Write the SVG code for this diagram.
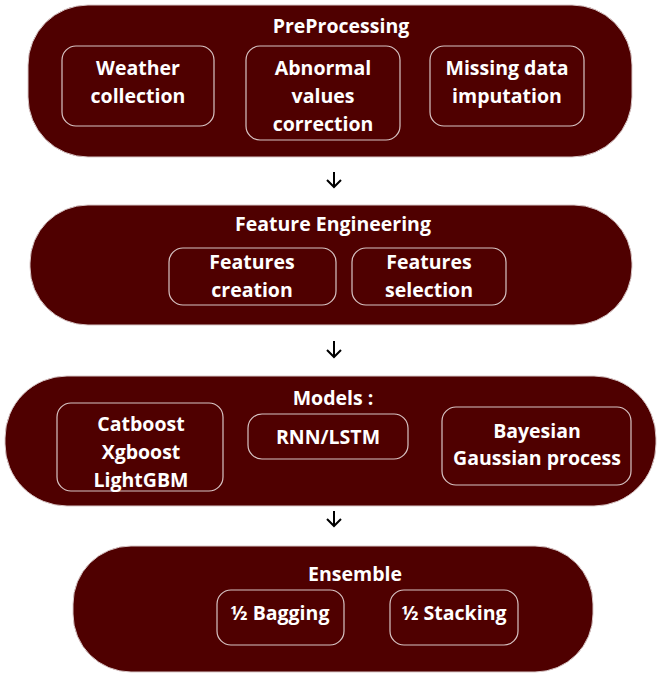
<svg xmlns="http://www.w3.org/2000/svg" width="659" height="674" viewBox="0 0 659 674">
<style>
.outer{fill:#4f0000;stroke:#d9c8c8;stroke-width:1}
.inner{fill:none;stroke:#d8c4c4;stroke-width:1.2}
text{font-family:"Open Sans","Noto Sans",sans-serif;font-weight:bold;font-size:19.5px;fill:#ffffff;text-anchor:middle}
.arr{fill:none;stroke:#000;stroke-width:2}
</style>
<rect width="659" height="674" fill="#ffffff"/>
<g id="preprocessing">
<rect class="outer" x="28" y="5" width="604" height="152" rx="60" ry="60"/>
<text x="341" y="33">PreProcessing</text>
<rect class="inner" x="62" y="46" width="152" height="80" rx="14"/>
<text x="138" y="75">Weather</text><text x="138" y="103">collection</text>
<rect class="inner" x="246" y="46" width="154" height="94" rx="14"/>
<text x="323" y="75">Abnormal</text><text x="323" y="103">values</text><text x="323" y="131">correction</text>
<rect class="inner" x="430" y="46" width="154" height="80" rx="14"/>
<text x="507" y="75">Missing data</text><text x="507" y="103">imputation</text>
</g>
<g id="feature-engineering">
<rect class="outer" x="30" y="205" width="602" height="120" rx="58" ry="58"/>
<text x="333" y="231">Feature Engineering</text>
<rect class="inner" x="169" y="248" width="167" height="57" rx="14"/>
<text x="252" y="269">Features</text><text x="252" y="297">creation</text>
<rect class="inner" x="352" y="248" width="154" height="57" rx="14"/>
<text x="429" y="269">Features</text><text x="429" y="297">selection</text>
</g>
<g id="models">
<rect class="outer" x="5" y="376" width="651" height="130" rx="62" ry="62"/>
<text x="333" y="405">Models :</text>
<rect class="inner" x="57" y="403" width="166" height="88" rx="14"/>
<text x="141" y="431">Catboost</text><text x="141" y="459">Xgboost</text><text x="141" y="487">LightGBM</text>
<rect class="inner" x="248" y="414" width="160" height="45" rx="14"/>
<text x="328" y="444">RNN/LSTM</text>
<rect class="inner" x="442" y="407" width="189" height="78" rx="14"/>
<text x="537" y="438">Bayesian</text><text x="537" y="465">Gaussian process</text>
</g>
<g id="ensemble">
<rect class="outer" x="73" y="546" width="520" height="126" rx="58" ry="58"/>
<text x="355" y="581">Ensemble</text>
<rect class="inner" x="217" y="590" width="127" height="55" rx="14"/>
<text x="280" y="620">½ Bagging</text>
<rect class="inner" x="390" y="590" width="128" height="55" rx="14"/>
<text x="454" y="620">½ Stacking</text>
</g>
<g id="connectors">
<path class="arr" d="M334 172 V187 M327 180 L334 187 L341 180"/>
<path class="arr" d="M334 341 V357 M327 350 L334 357 L341 350"/>
<path class="arr" d="M334 511 V526 M327 519 L334 526 L341 519"/>
</g>
</svg>
